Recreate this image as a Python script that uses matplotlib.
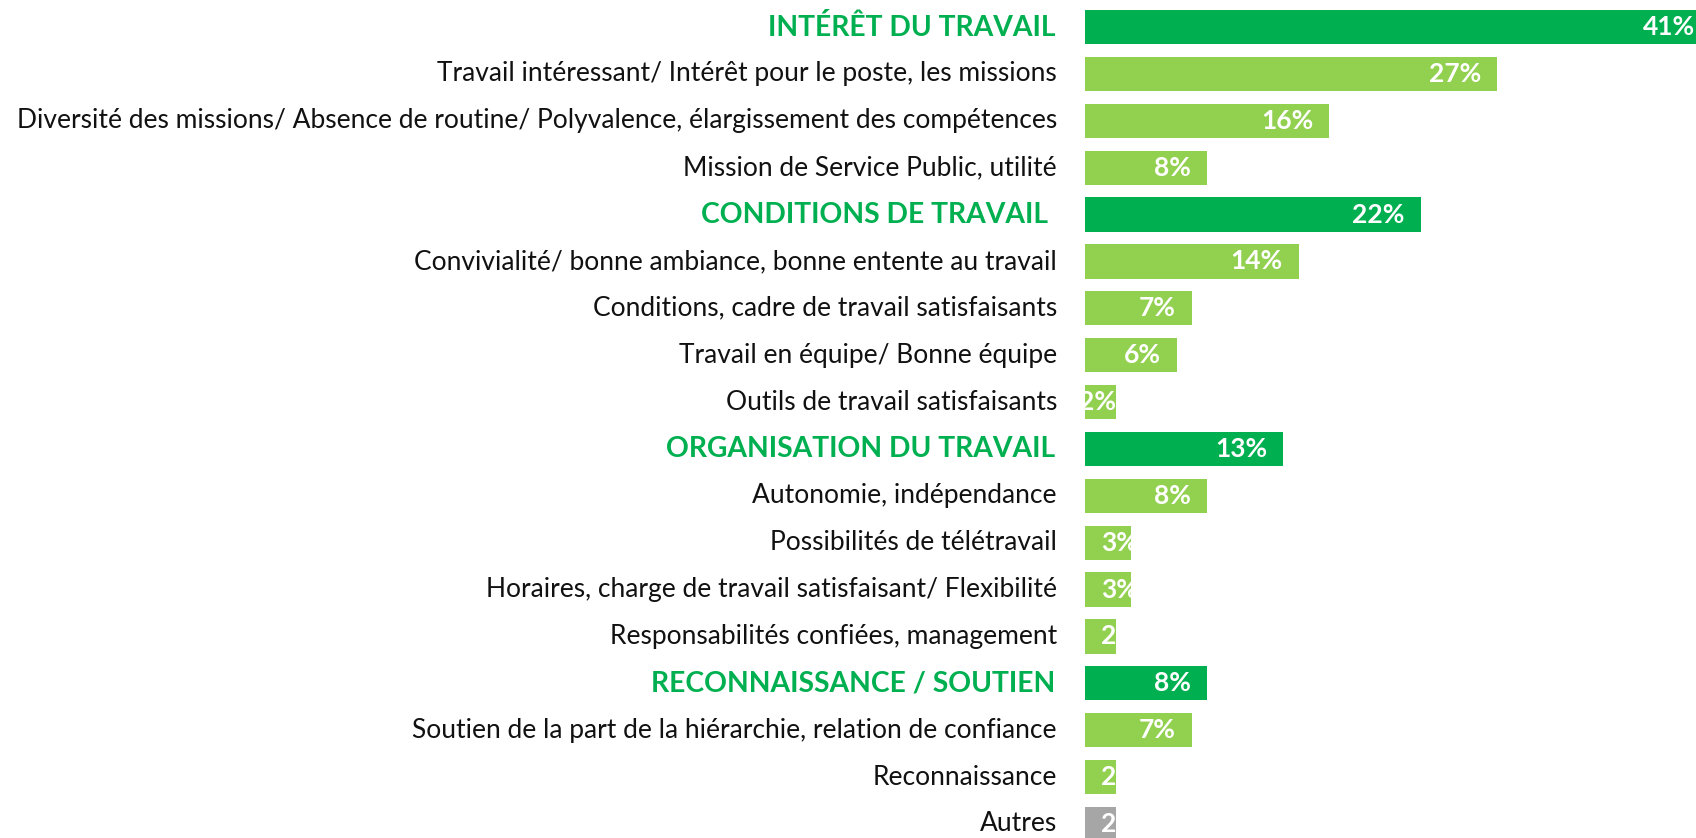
import matplotlib
matplotlib.use("Agg")
import matplotlib.pyplot as plt
from matplotlib.transforms import Bbox, TransformedBbox

labels = [
    "INTÉRÊT DU TRAVAIL",
    "Travail intéressant/ Intérêt pour le poste, les missions",
    "Diversité des missions/ Absence de routine/ Polyvalence, élargissement des compétences",
    "Mission de Service Public, utilité",
    "CONDITIONS DE TRAVAIL ",
    "Convivialité/ bonne ambiance, bonne entente au travail",
    "Conditions, cadre de travail satisfaisants",
    "Travail en équipe/ Bonne équipe",
    "Outils de travail satisfaisants",
    "ORGANISATION DU TRAVAIL",
    "Autonomie, indépendance",
    "Possibilités de télétravail",
    "Horaires, charge de travail satisfaisant/ Flexibilité",
    "Responsabilités confiées, management",
    "RECONNAISSANCE / SOUTIEN",
    "Soutien de la part de la hiérarchie, relation de confiance",
    "Reconnaissance",
    "Autres",
]
values = [41, 27, 16, 8, 22, 14, 7, 6, 2, 13, 8, 3, 3, 2, 8, 7, 2, 2]
kinds = ["cat", "sub", "sub", "sub", "cat", "sub", "sub", "sub", "sub",
         "cat", "sub", "sub", "sub", "sub", "cat", "sub", "sub", "other"]
value_text = ["41%", "27%", "16%", "8%", "22%", "14%", "7%", "6%", "2%",
              "13%", "8%", "3%", "3%", "2%", "8%", "7%", "2%", "2%"]
# label placement style: 'end' = right-aligned inside end, 'edge' = right at end, 'start' = left near start
label_mode = ["end"] * 8 + ["edge"] + ["end", "end", "start", "start", "start",
                                       "end", "end", "start", "start"]

colors = {"cat": "#00B050", "sub": "#92D050", "other": "#A6A6A6"}
FONT = "Lato"

W, H = 1696, 838
fig = plt.figure(figsize=(W / 100, H / 100), dpi=100)
ax = fig.add_axes([1085 / W, 0, 1 - 1085 / W, 1])

n = len(values)
ys = list(range(n))
bh = 0.73
XMAX = 40.04
bars = ax.barh(ys, values, height=bh, color=[colors[k] for k in kinds], clip_on=True)

ax.set_xlim(0, XMAX)
ax.set_ylim(n - 1 + 0.3, -0.576)
ax.axis("off")

px2pt = 72 / 100
for i, (v, t, m) in enumerate(zip(values, value_text, label_mode)):
    if m == "end":
        xy, off, ha = (v, i), (-16 * px2pt, 0), "right"
    elif m == "edge":
        xy, off, ha = (v, i), (0, 0), "right"
    else:
        xy, off, ha = (0, i), (16 * px2pt, 0), "left"
    txt = ax.annotate(t, xy=xy, xytext=off, textcoords="offset points",
                      ha=ha, va="center", color="white", fontsize=19,
                      fontweight="bold", family=FONT, annotation_clip=False)
    clipbb = TransformedBbox(Bbox([[0, i - bh / 2], [min(v, XMAX), i + bh / 2]]), ax.transData)
    txt.set_clip_box(clipbb)
    txt.set_clip_on(True)

for i, (lab, k) in enumerate(zip(labels, kinds)):
    if k == "cat":
        ax.annotate(lab, xy=(0, i), xytext=(-30 * px2pt, 0), textcoords="offset points",
                    ha="right", va="center", color="#00B050", fontsize=20.3,
                    fontweight="bold", family=FONT, annotation_clip=False)
    else:
        ax.annotate(lab, xy=(0, i), xytext=(-28 * px2pt, 0), textcoords="offset points",
                    ha="right", va="center", color="#111111", fontsize=19,
                    family=FONT, annotation_clip=False)

fig.savefig("out.png", dpi=100)
